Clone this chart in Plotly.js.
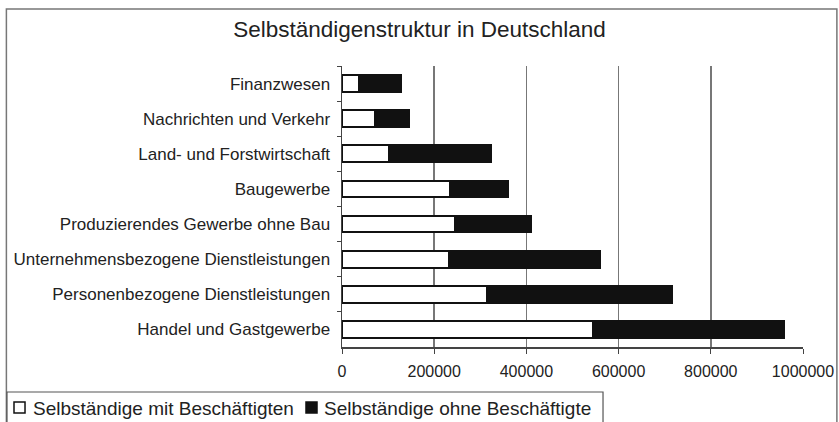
<!DOCTYPE html>
<html>
<head>
<meta charset="utf-8">
<script src="https://cdn.plot.ly/plotly-3.0.1.min.js"></script>
<style>html,body{margin:0;padding:0;background:#fff;}#chart{width:839px;height:422px;}</style>
</head>
<body>
<div id="chart"></div>
<script>
const categories = [
  "Finanzwesen",
  "Nachrichten und Verkehr",
  "Land- und Forstwirtschaft",
  "Baugewerbe",
  "Produzierendes Gewerbe ohne Bau",
  "Unternehmensbezogene Dienstleistungen",
  "Personenbezogene Dienstleistungen",
  "Handel und Gastgewerbe"
];
const mitBeschaeftigten = [36000, 71000, 103000, 234000, 245000, 232000, 314000, 545000];
const ohneBeschaeftigte = [91000, 74000, 221000, 127000, 164000, 328000, 401000, 414000];
const seriesNames = ["Selbständige mit Beschäftigten", "Selbständige ohne Beschäftigte"];
const xTicks = [0, 200000, 400000, 600000, 800000, 1000000];
const xTickLabels = ["0", "200000", "400000", "600000", "800000", "1000000"];

const fam = "Liberation Sans, Arial, sans-serif";
const txt = "#222";

const traces = [
  {
    type: "bar", orientation: "h", name: seriesNames[0],
    y: categories, x: mitBeschaeftigten,
    marker: {color: "#ffffff", line: {color: "#111", width: 2}}
  },
  {
    type: "bar", orientation: "h", name: seriesNames[1],
    y: categories, x: ohneBeschaeftigte,
    marker: {color: "#111111", line: {color: "#111", width: 2}}
  }
];

const layout = {
  width: 839, height: 422,
  paper_bgcolor: "#fff", plot_bgcolor: "#fff",
  margin: {l: 342, r: 36, t: 66, b: 75, pad: 0},
  barmode: "stack", bargap: 0.52,
  font: {family: fam, color: txt},
  title: {text: "Selbständigenstruktur in Deutschland", x: 0.5, xanchor: "center", y: 0.93, yanchor: "middle",
          font: {family: fam, size: 22.5, color: txt}},
  xaxis: {
    range: [0, 1000000], tickvals: xTicks, ticktext: xTickLabels,
    showgrid: true, gridcolor: "#777", gridwidth: 1.5,
    showline: true, linecolor: "#444", linewidth: 1.5,
    ticks: "outside", ticklen: 5, tickcolor: "#444", ticklabelstandoff: 4,
    tickfont: {family: fam, size: 16, color: txt},
    zeroline: false, fixedrange: true, automargin: false
  },
  yaxis: {
    type: "category", autorange: "reversed",
    showgrid: false, showline: true, linecolor: "#444", linewidth: 1.5,
    ticks: "outside", ticklen: 4, tickcolor: "#444", tickson: "boundaries",
    ticklabelstandoff: 7,
    tickfont: {family: fam, size: 17, color: txt},
    fixedrange: true, automargin: false
  },
  showlegend: false,
  shapes: [
    {type: "rect", xref: "paper", yref: "paper", x0: -0.728, x1: 1.0735, y0: -0.3, y1: 1.2025,
     line: {color: "#777", width: 1.5}, fillcolor: "rgba(0,0,0,0)", layer: "below"},
    {type: "rect", xref: "paper", yref: "paper", x0: -0.7267, x1: 0.5662, y0: -0.3, y1: -0.1601,
     line: {color: "#555", width: 1.2}, fillcolor: "#fff"},
    {type: "rect", xref: "paper", yref: "paper", x0: -0.7115, x1: -0.6876, y0: -0.2349, y1: -0.1957,
     line: {color: "#111", width: 1.5}, fillcolor: "#fff"},
    {type: "rect", xref: "paper", yref: "paper", x0: -0.0781, x1: -0.0542, y0: -0.2349, y1: -0.1957,
     line: {color: "#111", width: 1.5}, fillcolor: "#111"}
  ],
  annotations: [
    {text: seriesNames[0], xref: "paper", yref: "paper", x: -0.6745, y: -0.2171,
     xanchor: "left", yanchor: "middle", showarrow: false, font: {family: fam, size: 19, color: txt}},
    {text: seriesNames[1], xref: "paper", yref: "paper", x: -0.0432, y: -0.2171,
     xanchor: "left", yanchor: "middle", showarrow: false, font: {family: fam, size: 19, color: txt}}
  ]
};

Plotly.newPlot("chart", traces, layout, {staticPlot: true, displayModeBar: false});
</script>
</body>
</html>
